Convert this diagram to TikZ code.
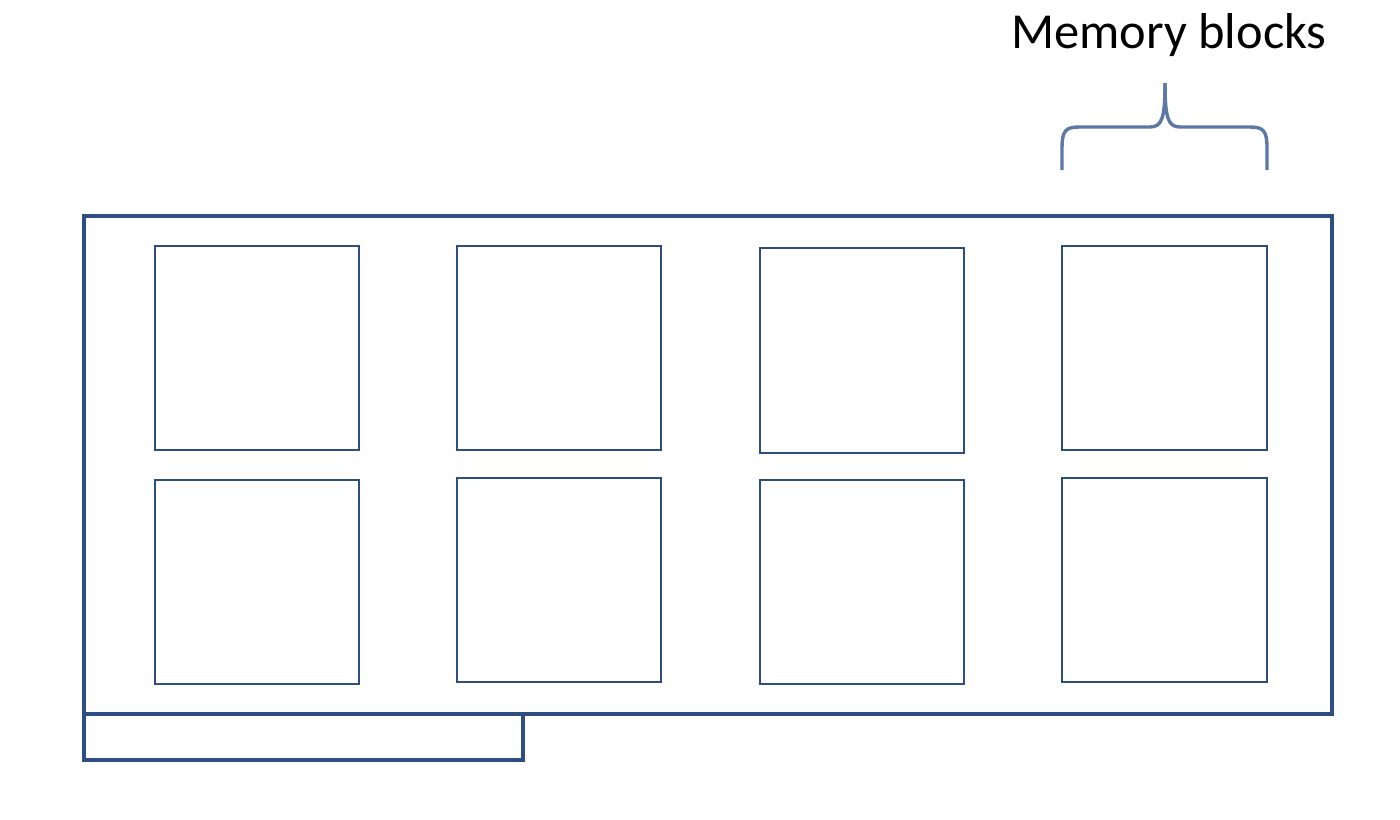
\documentclass[tikz,border=0pt]{standalone}
\usepackage{fontspec}
\setmainfont{Carlito}
\definecolor{boxblue}{HTML}{2E4D83}
\definecolor{braceblue}{HTML}{5B78A6}
\begin{document}
\begin{tikzpicture}[x=0.5pt,y=-0.5pt,
  outerbox/.style={draw=boxblue,line width=1.8pt},
  memblock/.style={draw=boxblue,line width=1.1pt},
  bracestyle/.style={draw=braceblue,line width=1.7pt}]
\useasboundingbox (0,0) rectangle (1400,819);
% outer board and tab
\draw[outerbox] (84,216) rectangle (1332,714);
\draw[outerbox] (84,714) rectangle (523,760);
% memory blocks
\draw[memblock] (155,246) rectangle (359,450);
\draw[memblock] (457,246) rectangle (661,450);
\draw[memblock] (760,248) rectangle (964,453);
\draw[memblock] (1062,246) rectangle (1267,450);
\draw[memblock] (155,480) rectangle (359,684);
\draw[memblock] (457,478) rectangle (661,682);
\draw[memblock] (760,480) rectangle (964,684);
\draw[memblock] (1062,478) rectangle (1267,682);
% brace
\coordinate (bl) at (1062,170);
\coordinate (br) at (1267,170);
\coordinate (tip) at (1165,83);
\draw[bracestyle] (bl) -- (1062,148) .. controls (1062,130) and (1066,127) .. (1080,127)
  -- (1150,127) .. controls (1162,127) and (1165,118) .. (tip);
\draw[bracestyle] (br) -- (1267,148) .. controls (1267,130) and (1263,127) .. (1249,127)
  -- (1180,127) .. controls (1168,127) and (1165,118) .. (tip);
\node[anchor=base,font=\fontsize{25.2}{29}\selectfont,inner sep=0pt] (label) at (1169,48) {Memory blocks};
\end{tikzpicture}
\end{document}
